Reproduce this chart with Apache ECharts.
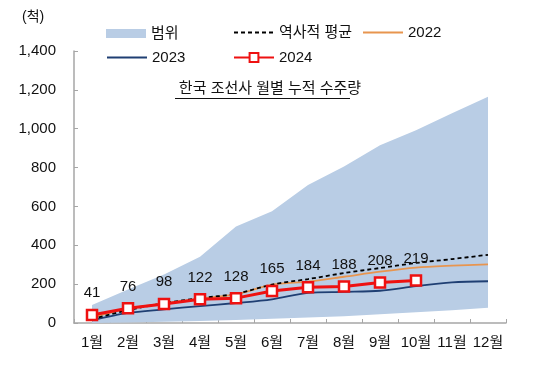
<!DOCTYPE html>
<html>
<head>
<meta charset="utf-8">
<script src="https://cdn.jsdelivr.net/npm/echarts@6/dist/echarts.min.js"></script>
<style>
html,body{margin:0;padding:0;background:#fff;}
#c{width:540px;height:369px;}
</style>
</head>
<body>
<div id="c"></div>
<script>
const months = ['1월','2월','3월','4월','5월','6월','7월','8월','9월','10월','11월','12월'];
const rangeLow  = [0, 3, 6, 10, 15, 22, 28, 35, 45, 55, 65, 78];
const rangeHigh = [93, 172, 250, 341, 497, 575, 710, 805, 915, 992, 1080, 1165];
const histAvg   = [20, 66, 102, 128, 150, 198, 226, 257, 283, 309, 329, 351];
const y2022     = [28, 74, 101, 126, 147, 198, 213, 238, 264, 285, 295, 302];
const y2023     = [14, 52, 70, 87, 103, 122, 155, 160, 166, 190, 209, 215];
const y2024     = [41, 76, 98, 122, 128, 165, 184, 188, 208, 219];
const yTicks    = [0, 200, 400, 600, 800, 1000, 1200, 1400];

const FONT = "'Liberation Sans', 'Noto Sans CJK KR', sans-serif";
const bandSpan = rangeHigh.map((v, i) => v - rangeLow[i]);

const chart = echarts.init(document.getElementById('c'), null, {renderer: 'canvas'});

function legendAt(item, left, top, opts) {
  return Object.assign({
    left: left, top: top, orient: 'horizontal',
    itemWidth: 40, itemHeight: 10, itemGap: 0,
    textStyle: {fontFamily: FONT, fontSize: 15, color: '#111'},
    data: [item], selectedMode: false
  }, opts || {});
}
const noSym = name => ({name: name, itemStyle: {opacity: 0, borderWidth: 0}});

chart.setOption({
  animation: false,
  textStyle: {fontFamily: FONT},
  grid: {left: 74, right: 34, top: 51, bottom: 46, containLabel: false},
  legend: [
    legendAt({name: '범위', icon: 'rect', itemStyle: {color: '#B9CDE5'}}, 101, 21, {itemHeight: 9}),
    legendAt(noSym('역사적 평균'), 228, 20),
    legendAt(noSym('2022'), 357, 20),
    legendAt(noSym('2023'), 101, 45),
    legendAt('2024', 228, 45, {itemHeight: 11})
  ],
  graphic: [
    {type: 'text', left: 22, top: 10, style: {text: '(척)', font: '14px ' + FONT, fill: '#111'}},
    {type: 'text', left: 'center', top: 81, style: {text: '한국 조선사 월별 누적 수주량', font: '15px ' + FONT, fill: '#111', textAlign: 'center'}, x: -7},
    {type: 'line', shape: {x1: 175, y1: 98.5, x2: 350, y2: 98.5}, style: {stroke: '#111', lineWidth: 1}}
  ],
  xAxis: {
    type: 'category', data: months, boundaryGap: true,
    axisLine: {show: true, lineStyle: {color: '#A6A6A6', width: 1.5}},
    axisTick: {show: true, inside: true, length: 4, lineStyle: {color: '#A6A6A6'}},
    axisLabel: {fontFamily: FONT, fontSize: 15, color: '#111', margin: 12, interval: 0}
  },
  yAxis: {
    type: 'value', min: 0, max: 1400, interval: 200,
    axisLine: {show: true, lineStyle: {color: '#A6A6A6', width: 1.5}},
    axisTick: {show: true, inside: true, length: 4, lineStyle: {color: '#A6A6A6'}},
    splitLine: {show: false},
    axisLabel: {fontFamily: FONT, fontSize: 15, color: '#111', margin: 18,
      formatter: v => yTicks.includes(v) ? v.toLocaleString('en-US') : ''}
  },
  series: [
    {name: '하한', type: 'line', stack: 'band', data: rangeLow, symbol: 'none',
     lineStyle: {width: 0, opacity: 0}, areaStyle: {opacity: 0}, silent: true, z: 1},
    {name: '범위', type: 'line', stack: 'band', data: bandSpan, symbol: 'none',
     itemStyle: {color: '#B9CDE5'},
     lineStyle: {width: 0, opacity: 0}, areaStyle: {color: '#B9CDE5', opacity: 1}, silent: true, z: 1},
    {name: '2023', type: 'line', data: y2023, symbol: 'none', smooth: 0.3,
     itemStyle: {color: '#1F3F73'}, lineStyle: {color: '#1F3F73', width: 1.8}, z: 3},
    {name: '2022', type: 'line', data: y2022, symbol: 'none', smooth: 0.3,
     itemStyle: {color: '#E8954F'}, lineStyle: {color: '#E8954F', width: 1.8}, z: 3},
    {name: '역사적 평균', type: 'line', data: histAvg, symbol: 'none', smooth: 0.3,
     itemStyle: {color: '#000'}, lineStyle: {color: '#000', width: 1.8, type: [4, 3]}, z: 4},
    {name: '2024', type: 'line', data: y2024, symbol: 'rect', symbolSize: 10,
     itemStyle: {color: '#fff', borderColor: '#EE1111', borderWidth: 2.5},
     lineStyle: {color: '#EE1111', width: 3},
     label: {show: true, position: 'top', distance: 8, fontFamily: FONT, fontSize: 15, color: '#111'},
     z: 5}
  ]
});
</script>
</body>
</html>
